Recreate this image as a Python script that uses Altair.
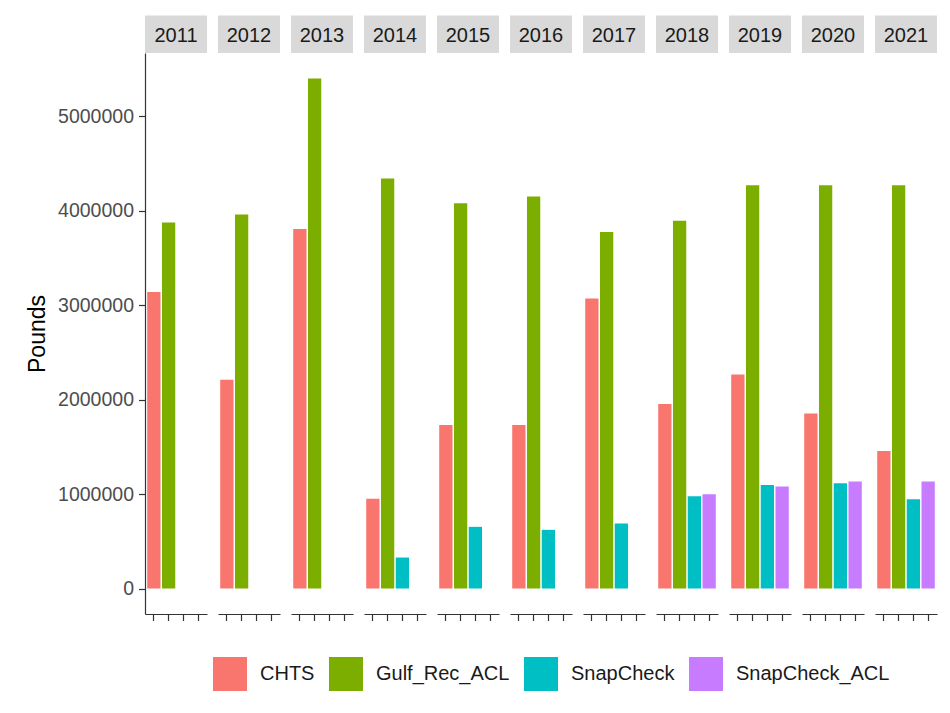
import altair as alt
import pandas as pd

years = [2011, 2012, 2013, 2014, 2015, 2016, 2017, 2018, 2019, 2020, 2021]
series = ["CHTS", "Gulf_Rec_ACL", "SnapCheck", "SnapCheck_ACL"]
colors = ["#F8766D", "#7CAE00", "#00BFC4", "#C77CFF"]

chts = [3140000, 2210000, 3806000, 949000, 1732000, 1732000, 3070000, 1954000, 2265000, 1852000, 1457000]
gulf_rec_acl = [3876000, 3959000, 5400000, 4340000, 4080000, 4150000, 3775000, 3894000, 4270000, 4270000, 4270000]
snapcheck = [None, None, None, 328000, 653000, 621000, 688000, 977000, 1097000, 1114000, 945000]
snapcheck_acl = [None, None, None, None, None, None, None, 998000, 1079000, 1132000, 1132000]
y_ticks = [0, 1000000, 2000000, 3000000, 4000000, 5000000]

rows = []
for s, vals in zip(series, [chts, gulf_rec_acl, snapcheck, snapcheck_acl]):
    for yr, v in zip(years, vals):
        if v is not None:
            rows.append({"year": yr, "series": s, "value": v})
df = pd.DataFrame(rows)

PANEL_W = 62
FONT = "Liberation Sans"

bars = alt.Chart().mark_bar().encode(
    x=alt.X(
        "series:N",
        scale=alt.Scale(domain=series, paddingInner=0.1, paddingOuter=0.15),
        axis=alt.Axis(labels=False, title=None, ticks=True, tickSize=6.5,
                      domainColor="#333333", tickColor="#333333", domainWidth=1.2,
                      tickWidth=1.2, grid=False),
    ),
    y=alt.Y(
        "value:Q",
        scale=alt.Scale(domain=[-270000, 5670000], nice=False, zero=False),
        axis=alt.Axis(title="Pounds", values=y_ticks, format="d", grid=False,
                      labelFontSize=19.5, labelColor="#4d4d4d", tickSize=6.5,
                      labelPadding=5, domainColor="#333333", tickColor="#333333",
                      domainWidth=1.2, tickWidth=1.2, titleFontSize=23,
                      titleColor="black", titleFontWeight="normal", titlePadding=8),
    ),
    color=alt.Color(
        "series:N",
        scale=alt.Scale(domain=series, range=colors),
        legend=alt.Legend(title=None),
    ),
)

strip_base = alt.Chart().transform_aggregate(n="count()", groupby=["year"])
strip_rect = strip_base.mark_rect(color="#d9d9d9").encode(
    x=alt.value(0), x2=alt.value(PANEL_W), y=alt.value(-37.5), y2=alt.value(0)
)
strip_text = strip_base.mark_text(fontSize=20, color="#1a1a1a", font=FONT).encode(
    x=alt.value(PANEL_W / 2), y=alt.value(-17), text="year:O"
)

chart = alt.layer(bars, strip_rect, strip_text, data=df).properties(
    width=PANEL_W, height=561
).facet(
    column=alt.Column("year:O", title=None, header=alt.Header(labels=False)),
    spacing=11,
).properties(
    padding={"left": 18, "top": 7, "right": 5, "bottom": 5}
).configure(font=FONT).configure_view(stroke=None).configure_legend(
    orient="none", legendX=68, legendY=604, direction="horizontal",
    symbolType="square", symbolSize=1156, symbolStrokeWidth=0,
    labelFontSize=20, labelColor="#1a1a1a", labelOffset=13, columnPadding=14,
    labelFont=FONT,
)

chart.save("out.html", embed_options={"renderer": "svg", "actions": False})
